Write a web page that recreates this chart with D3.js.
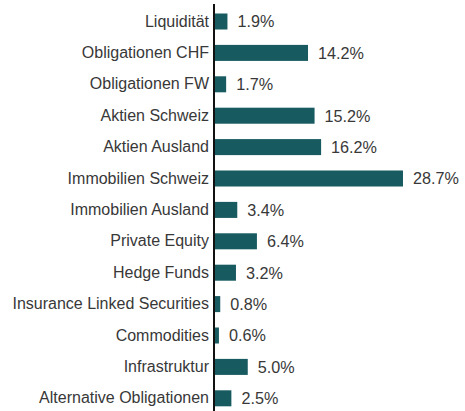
<!DOCTYPE html>
<html>
<head>
<meta charset="utf-8">
<script src="https://cdn.jsdelivr.net/npm/d3@7"></script>
<style>
  body { margin: 0; background: #fff; }
  text { font-family: "Liberation Sans", Arial, sans-serif; fill: #383838; }
</style>
</head>
<body>
<svg id="chart" width="465" height="411"></svg>
<script>
// asset classes, top to bottom
var categories = ["Liquidität", "Obligationen CHF", "Obligationen FW", "Aktien Schweiz",
  "Aktien Ausland", "Immobilien Schweiz", "Immobilien Ausland", "Private Equity",
  "Hedge Funds", "Insurance Linked Securities", "Commodities", "Infrastruktur",
  "Alternative Obligationen"];
// share in percent
var values = [1.9, 14.2, 1.7, 15.2, 16.2, 28.7, 3.4, 6.4, 3.2, 0.8, 0.6, 5.0, 2.5];

var data = categories.map(function(c, i) { return { name: c, value: values[i] }; });

var svg = d3.select("#chart");
var x0 = 215;

var y = d3.scaleBand()
  .domain(categories)
  .range([5.8, 414])
  .paddingInner(0.49)
  .paddingOuter(0.245);

var x = d3.scaleLinear()
  .domain([0, 30])
  .range([x0, 411.5]);

svg.selectAll("rect.bar")
  .data(data)
  .enter()
  .append("rect")
  .attr("class", "bar")
  .attr("x", x(0))
  .attr("y", d => y(d.name))
  .attr("width", d => x(d.value) - x(0))
  .attr("height", y.bandwidth())
  .attr("fill", "#175a60");

// value labels
svg.selectAll("text.val")
  .data(data)
  .enter()
  .append("text")
  .attr("class", "val")
  .attr("x", d => x(d.value) + 10)
  .attr("y", d => y(d.name) + y.bandwidth() / 2)
  .attr("dy", "0.36em")
  .style("font-size", "16.2px")
  .text(d => d.value.toFixed(1) + "%");

// category axis
var axis = d3.axisLeft(y).tickSize(0).tickPadding(5);
var g = svg.append("g")
  .attr("transform", "translate(" + (x0 - 1) + ",0)")
  .call(axis);
g.select(".domain").remove();
g.selectAll("text")
  .style("font-size", "16px")
  .style("font-family", "'Liberation Sans', Arial, sans-serif")
  .attr("fill", "#383838");

svg.append("line")
  .attr("x1", x0 - 1).attr("x2", x0 - 1)
  .attr("y1", 4).attr("y2", 411)
  .attr("stroke", "#111")
  .attr("stroke-width", 2);
</script>
</body>
</html>
